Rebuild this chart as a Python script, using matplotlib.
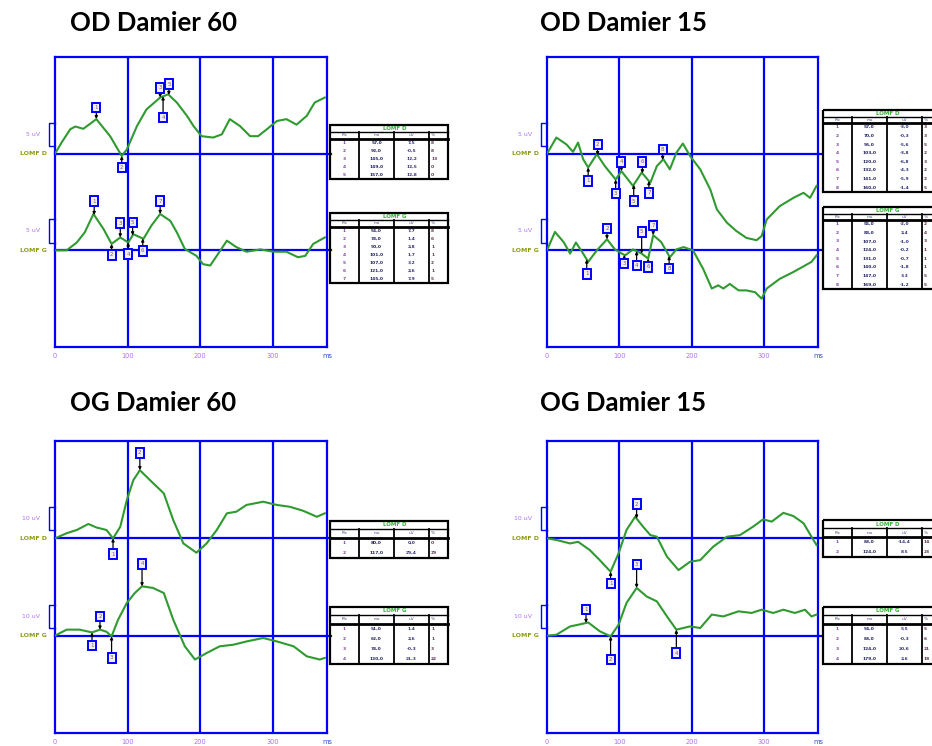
import numpy as np
import matplotlib.pyplot as plt
from matplotlib.patches import Rectangle
from matplotlib.transforms import blended_transform_factory

# ---- traces (ms, uV relative to each baseline) ----
# OD Damier 60
tl_d_ms = [0, 9, 21, 28, 39, 57, 76, 92, 99, 113, 126, 145, 156, 168, 182, 191, 202, 218,
           230, 241, 255, 269, 280, 292, 306, 319, 333, 347, 358, 372]
tl_d_uv = [0, 2.4, 5.3, 5.9, 5.4, 7.5, 3.8, -0.5, 0.9, 6.0, 9.6, 12.2, 12.9, 11.1, 8.2, 6.0,
           3.8, 3.5, 4.2, 7.5, 6.0, 3.8, 3.8, 5.3, 7.1, 7.5, 6.3, 8.2, 11.1, 12.2]
tl_g_ms = [0, 16, 30, 41, 53, 67, 78, 90, 101, 108, 122, 133, 145, 159, 168, 179, 195, 204,
           214, 223, 237, 250, 264, 283, 301, 319, 335, 345, 356, 372]
tl_g_uv = [0, 0, 1.7, 3.9, 7.9, 4.6, 1.4, 2.8, 1.7, 3.5, 2.5, 5.4, 7.9, 6.4, 3.9, 0.3, -1.2,
           -3.0, -3.3, -1.2, 2.1, 0.7, -0.3, 0.2, -0.3, -0.3, -1.5, -1.2, 1.4, 2.8]
tl_d_mk = [57, 92, 145, 149, 157]
tl_d_box = [10.0, -3.0, 14.3, 7.8, 15.1]
tl_g_mk = [54, 78, 90, 101, 107, 121, 145]
tl_g_box = [10.7, -1.0, 5.9, -0.8, 6.1, -0.1, 10.7]

# OD Damier 15
tr_d_ms = [0, 13, 27, 36, 43, 50, 57, 69, 80, 95, 103, 119, 131, 143, 152, 161, 170, 179,
           188, 198, 212, 226, 235, 249, 262, 276, 290, 297, 304, 322, 341, 355, 364, 373]
tr_d_uv = [0, 3.5, 2.0, 0.4, 2.4, -1.2, -3.0, -0.1, -2.7, -5.6, -3.8, -7.0, -4.1, -6.3, -2.7,
           -1.2, -3.4, 0.2, 2.2, -0.5, -3.4, -7.8, -12.1, -15.0, -16.8, -18.3, -18.8, -17.9,
           -14.3, -11.4, -9.6, -8.5, -9.6, -7.0]
tr_g_ms = [0, 11, 23, 32, 40, 50, 57, 69, 83, 94, 108, 119, 131, 140, 147, 158, 170, 179,
           189, 202, 216, 228, 237, 244, 253, 265, 276, 288, 297, 304, 322, 341, 357, 366, 373]
tr_g_uv = [0, 4.0, 1.8, -0.7, 1.7, -0.7, -2.5, 0, 2.4, 0.2, -1.1, 0.2, -0.7, -1.8, 3.3, 1.8,
           -1.5, 0.2, 0.7, 0, -4.0, -8.3, -7.6, -8.3, -7.3, -8.7, -8.7, -9.1, -10.5, -8.3,
           -6.2, -4.7, -3.3, -2.5, -1.1]
tr_d_mk = [57, 70, 95, 103, 120, 132, 141, 160]
tr_d_box = [-5.9, 2.0, -8.6, -1.8, -10.3, -1.8, -8.5, 0.9]
tr_g_mk = [55, 83, 107, 124, 131, 140, 147, 169]
tr_g_box = [-5.1, 4.8, -2.9, -3.3, 4.0, -3.6, 5.4, -4.0]

# OG Damier 60
bl_d_ms = [0, 16, 30, 46, 57, 71, 80, 90, 99, 108, 117, 131, 150, 163, 177, 195, 209, 223,
           237, 250, 264, 287, 306, 324, 342, 361, 372]
bl_d_uv = [0, 2.2, 3.6, 6.2, 4.7, 3.6, 0, 5.0, 16.5, 25.1, 29.4, 25.1, 19.4, 7.9, -2.2, -6.2,
           -2.2, 3.6, 10.8, 11.5, 14.4, 15.8, 14.4, 13.6, 11.9, 9.3, 10.8]
bl_g_ms = [0, 16, 34, 51, 62, 71, 78, 87, 99, 110, 120, 135, 150, 163, 179, 193, 209, 227,
           246, 264, 287, 306, 329, 347, 365, 372]
bl_g_uv = [0, 2.6, 2.6, 1.4, 2.6, 1.7, -0.3, 6.9, 14.1, 18.4, 21.3, 20.6, 18.4, 6.9, -4.6,
           -10.3, -7.5, -4.6, -3.9, -2.5, -1.0, -2.5, -4.6, -8.9, -10.3, -9.6]
bl_d_mk = [80, 117]
bl_d_box = [-6.8, 36.9]
bl_g_mk = [51, 62, 78, 120]
bl_g_box = [-4.2, 8.3, -9.6, 31.0]

# OG Damier 15
br_d_ms = [0, 13, 32, 43, 59, 73, 88, 99, 110, 122, 133, 143, 152, 166, 182, 198, 212, 230,
           249, 267, 285, 299, 311, 327, 341, 355, 366, 373]
br_d_uv = [0, -0.7, -2.2, -1.5, -5.0, -9.4, -14.4, -6.5, 3.6, 9.3, 5.0, 1.4, 0.7, -7.9, -13.7,
           -10.1, -9.4, -3.6, 0.7, 1.4, 5.0, 8.2, 7.2, 11.0, 9.6, 6.5, 0.7, -2.9]
br_g_ms = [0, 13, 32, 43, 57, 73, 88, 99, 110, 124, 138, 152, 166, 179, 198, 212, 228, 244,
           265, 283, 297, 313, 327, 343, 357, 366, 373]
br_g_uv = [0, 0.4, 4.0, 4.7, 5.7, 1.9, -0.3, 4.7, 14.1, 20.6, 16.9, 14.8, 8.3, 2.6, 4.0, 3.3,
           9.1, 8.3, 10.5, 9.8, 11.2, 9.8, 11.2, 9.8, 11.2, 8.3, 9.1]
br_d_mk = [88, 124]
br_d_box = [-19.4, 14.8]
br_g_mk = [54, 88, 124, 179]
br_g_box = [11.2, -10.3, 30.6, -7.5]

titles = ["OD Damier 60", "OD Damier 15", "OG Damier 60", "OG Damier 15"]
scales = [5, 5, 10, 10]
xticks = [0, 100, 200, 300]
xtick_labels = ["0", "100", "200", "300"]
table_head = ["Pic", "ms", "uV", "%"]

W, H = 932, 746
BLUE = "#0000ff"
GREEN = "#2f9a2f"
VIOLET = "#b070f0"
OLIVE = "#8c9a10"

fig = plt.figure(figsize=(W / 100, H / 100), dpi=100)
fig.patch.set_facecolor("white")


def fig_axes(x0, y0, w, h):
    # pixel box (top-left origin) -> figure fraction
    return fig.add_axes([x0 / W, 1 - (y0 + h) / H, w / W, h / H])


def side_labels(ax, off, scale, name):
    tr = blended_transform_factory(ax.transAxes, ax.transData)
    y0, y1 = off + 0.34 * scale, off + 1.34 * scale
    ax.plot([0, -0.022, -0.022, 0], [y0, y0, y1, y1], color=BLUE, lw=1.0,
            transform=tr, clip_on=False)
    ax.text(-0.055, (y0 + y1) / 2, f"{scale} uV", transform=tr, ha="right", va="center",
            color=VIOLET, fontsize=4.5)
    ax.text(-0.03, off, name, transform=tr, ha="right", va="center",
            color=OLIVE, fontsize=4.5, fontweight="bold")


def draw_trace(ax, ms, uv, mk, box, off):
    ms = np.array(ms)
    uv = np.array(uv)
    ax.plot(ms, uv + off, color=GREEN, lw=1.5, zorder=3)
    amps = np.interp(mk, ms, uv)
    for i, (m, a, b) in enumerate(zip(mk, amps, box)):
        ax.annotate(str(i + 1), xy=(m, a + off), xytext=(m, b + off),
                    ha="center", va="center", fontsize=4, color="#8a5a40", zorder=5,
                    bbox=dict(boxstyle="square,pad=0.4", fc="#eeeeff", ec=BLUE, lw=1.4),
                    arrowprops=dict(arrowstyle="-|>", color="black", lw=0.9,
                                    mutation_scale=4, shrinkA=0, shrinkB=0))
    return amps


def draw_table(x0, y0, name, mk, amps, title_h, head_h, row_h):
    w = 118
    n = len(mk)
    h = title_h + head_h + n * row_h
    ax = fig_axes(x0, y0, w, h)
    ax.set_xlim(0, w)
    ax.set_ylim(h, 0)
    ax.axis("off")
    ax.add_patch(Rectangle((0, 0), w, h, fill=False, ec="black", lw=1.6, clip_on=False))
    ax.plot([0, w], [title_h, title_h], color="black", lw=1.0, clip_on=False)
    ax.plot([0, w], [title_h + head_h] * 2, color="black", lw=2.0, clip_on=False)
    cols = [0, 29, 64, 99, w]
    for cx in cols[1:-1]:
        ax.plot([cx, cx], [title_h, h], color="black", lw=1.3, clip_on=False)
    ax.text(w * 0.55, title_h / 2, name, ha="center", va="center", fontsize=4,
            color="#30b030", fontweight="bold")
    # last column is narrow and may run off the page: left-align it
    xs = [(cols[0] + cols[1]) / 2, (cols[1] + cols[2]) / 2, (cols[2] + cols[3]) / 2,
          cols[3] + 2]
    has = ["center", "center", "center", "left"]
    for cx, ha, lab in zip(xs, has, table_head):
        ax.text(cx, title_h + head_h / 2, lab, ha=ha, va="center", fontsize=3.2,
                color="#555588")
    prev = 0.0
    colors = ["#8040a0", "#202060", "#303080", "#603050"]
    for i, (m, a) in enumerate(zip(mk, amps)):
        y = title_h + head_h + (i + 0.5) * row_h
        vals = [str(i + 1), f"{m:.1f}".replace(".", ","), f"{a:.1f}".replace(".", ","),
                f"{abs(a - prev):.0f}"]
        for cx, ha, v, c in zip(xs, has, vals, colors):
            ax.text(cx, y, v, ha=ha, va="center", fontsize=3.2, color=c,
                    fontweight="bold")
        prev = a


panels = [
    dict(box=(55, 57, 272, 290), title_xy=(70, 23),
         d=(tl_d_ms, tl_d_uv, tl_d_mk, tl_d_box), g=(tl_g_ms, tl_g_uv, tl_g_mk, tl_g_box),
         tabs=((330, 125), (330, 213)), rows=(6.5, 7.5, 8)),
    dict(box=(547, 57, 271, 290), title_xy=(540, 23),
         d=(tr_d_ms, tr_d_uv, tr_d_mk, tr_d_box), g=(tr_g_ms, tr_g_uv, tr_g_mk, tr_g_box),
         tabs=((823, 110), (823, 207)), rows=(6.5, 6.5, 8.6)),
    dict(box=(55, 441, 272, 292), title_xy=(70, 403),
         d=(bl_d_ms, bl_d_uv, bl_d_mk, bl_d_box), g=(bl_g_ms, bl_g_uv, bl_g_mk, bl_g_box),
         tabs=((330, 521), (330, 607)), rows=(8, 9, 10)),
    dict(box=(547, 441, 271, 292), title_xy=(540, 403),
         d=(br_d_ms, br_d_uv, br_d_mk, br_d_box), g=(br_g_ms, br_g_uv, br_g_mk, br_g_box),
         tabs=((823, 520), (823, 607)), rows=(8, 9, 10)),
]

for p, title, scale in zip(panels, titles, scales):
    ax = fig_axes(*p["box"])
    span = scale * 4.2  # one grid row in uV
    off_d = span
    ax.set_xlim(0, 375)
    ax.set_ylim(-span, 2 * span)
    for s in ax.spines.values():
        s.set_color(BLUE)
        s.set_linewidth(1.6)
    ax.set_yticks([])
    ax.set_xticks(xticks + [375], xtick_labels + ["ms"])
    ax.tick_params(axis="x", length=0, pad=4, labelsize=4.8, labelcolor=VIOLET)
    ax.get_xticklabels()[-1].set_color("#3050e0")
    for x in xticks[1:]:
        ax.axvline(x, color=BLUE, lw=1.6, zorder=1)
    for y in (0, off_d):
        ax.plot([0, 381], [y, y], color=BLUE, lw=1.6, zorder=1, clip_on=False)

    side_labels(ax, off_d, scale, "LOMF D")
    side_labels(ax, 0, scale, "LOMF G")
    amps_d = draw_trace(ax, *p["d"], off_d)
    amps_g = draw_trace(ax, *p["g"], 0)

    tx, ty = p["title_xy"]
    fig.text(tx / W, 1 - ty / H, title, ha="left", va="center", fontsize=18.5,
             fontweight="bold", family="Lato")

    (t1x, t1y), (t2x, t2y) = p["tabs"]
    draw_table(t1x, t1y, "LOMF D", p["d"][2], amps_d, *p["rows"])
    draw_table(t2x, t2y, "LOMF G", p["g"][2], amps_g, *p["rows"])

fig.savefig("out.png", dpi=100, facecolor="white")
